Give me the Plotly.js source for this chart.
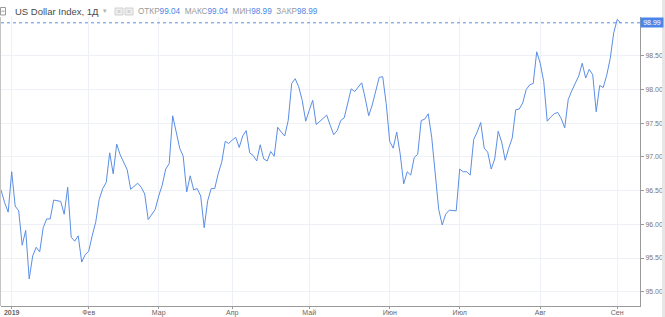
<!DOCTYPE html>
<html>
<head>
<meta charset="utf-8">
<script src="https://cdn.plot.ly/plotly-3.0.1.min.js"></script>
<style>
  html, body { margin: 0; padding: 0; background: #ffffff; }
  #chart { width: 665px; height: 317px; }
</style>
</head>
<body>
<div id="chart"></div>
<script>
// ---- data (US Dollar Index, daily closes) ----
const firstDate = '2018-12-26';
const holidays = ['2019-01-01'];
const valuesDec2018 = [96.62, 96.50, 96.32, 96.18];
const valuesJan = [96.78, 96.27, 96.20, 95.69, 95.91, 95.19, 95.53, 95.66, 95.59, 95.95, 96.08,
                   96.08, 96.36, 96.35, 96.34, 96.15, 96.55, 95.81, 95.75, 95.83, 95.44, 95.55];
const valuesFeb = [95.60, 95.83, 96.03, 96.37, 96.53, 96.62, 97.06, 96.75, 97.19, 97.03,
                   96.92, 96.81, 96.52, 96.56, 96.61, 96.55, 96.45, 96.07, 96.15, 96.22];
const valuesMar = [96.42, 96.58, 96.82, 96.90, 97.61, 97.39, 97.13, 97.01, 96.48, 96.72, 96.51,
                   96.53, 96.42, 95.95, 96.35, 96.53, 96.53, 96.75, 96.92, 97.23, 97.20];
const valuesApr = [97.25, 97.29, 97.14, 97.31, 97.39, 97.06, 97.02, 96.94, 97.18, 96.97, 96.94,
                   97.08, 97.01, 97.44, 97.37, 97.31, 97.54, 98.09, 98.16, 98.04, 97.84, 97.53];
const valuesMay = [97.69, 97.84, 97.48, 97.53, 97.57, 97.62, 97.47, 97.33, 97.39, 97.54, 97.58, 97.82,
                   98.01, 97.97, 98.04, 98.10, 97.87, 97.61, 97.77, 97.97, 98.18, 98.19, 97.79];
const valuesJun = [97.23, 97.13, 97.37, 97.04, 96.60, 96.78, 96.73, 96.99, 97.04, 97.54,
                   97.56, 97.64, 97.29, 96.77, 96.22, 95.99, 96.15, 96.21, 96.21, 96.20];
const valuesJul = [96.82, 96.78, 96.78, 96.73, 97.26, 97.37, 97.51, 97.13, 97.07, 96.82, 96.97, 97.38,
                   97.22, 96.95, 97.13, 97.28, 97.70, 97.71, 97.80, 98.00, 98.07, 98.09, 98.56];
const valuesAug = [98.39, 98.12, 97.53, 97.59, 97.64, 97.66, 97.57, 97.43, 97.85, 97.98, 98.10,
                   98.20, 98.39, 98.17, 98.30, 98.22, 97.67, 98.06, 98.03, 98.21, 98.46, 98.84];
const valuesSep = [99.04, 98.99];

const xTickDates = ['2019-01-02', '2019-02-01', '2019-03-01', '2019-04-01', '2019-05-01',
                    '2019-06-03', '2019-07-01', '2019-08-01', '2019-09-02'];
const xTickText = ['<b>2019</b>', 'Фев', 'Мар', 'Апр', 'Май', 'Июн', 'Июл', 'Авг', 'Сен'];
const yTickValues = [95.0, 95.5, 96.0, 96.5, 97.0, 97.5, 98.0, 98.5];

const chartTitle = 'US Dollar Index, 1Д';
const ohlcLabels = ['ОТКР', 'МАКС', 'МИН', 'ЗАКР'];
const ohlcValues = [99.04, 99.04, 98.99, 98.99];
const lastClose = 98.99;

// ---- build ----
const values = [].concat(valuesDec2018, valuesJan, valuesFeb, valuesMar, valuesApr,
                         valuesMay, valuesJun, valuesJul, valuesAug, valuesSep);

function tradingDays(start, n, skip) {
  const out = [];
  const d = new Date(start + 'T00:00:00Z');
  while (out.length < n) {
    const wd = d.getUTCDay();
    const s = d.toISOString().slice(0, 10);
    if (wd !== 0 && wd !== 6 && skip.indexOf(s) < 0) out.push(s);
    d.setUTCDate(d.getUTCDate() + 1);
  }
  return out;
}
const dates = tradingDays(firstDate, values.length, holidays);

// layout geometry helpers (pixels -> paper)
const W = 665, H = 317;
const M = { l: 1, r: 25, t: 17, b: 11 };
const PW = W - M.l - M.r, PH = H - M.t - M.b;
const px = v => (v - M.l) / PW;
const py = v => (H - M.b - v) / PH;

const blue = '#4a86e8';
const lineBlue = '#5b8ee6';
const grid = '#edf1f6';
const axisGray = '#9a9a9a';
const font = 'Liberation Sans, Arial, sans-serif';

const ohlcText = ohlcLabels.map((l, i) =>
  l + '<span style="color:' + blue + '">' + ohlcValues[i].toFixed(2) + '</span>').join('\u00a0\u00a0');

const trace = {
  type: 'scatter', mode: 'lines',
  x: dates, y: values,
  line: { color: lineBlue, width: 1 },
  hoverinfo: 'skip'
};

const layout = {
  width: W, height: H,
  margin: M,
  paper_bgcolor: '#ffffff', plot_bgcolor: '#ffffff',
  showlegend: false,
  font: { family: font, size: 7, color: '#777777' },
  xaxis: {
    type: 'date',
    rangebreaks: [{ bounds: ['sat', 'mon'] }, { values: holidays }],
    range: ['2018-12-26 22:38', '2019-09-10 12:15'],
    tickmode: 'array', tickvals: xTickDates, ticktext: xTickText,
    ticks: 'outside', ticklen: 2, tickcolor: axisGray,
    ticklabelstandoff: -2,
    tickfont: { family: font, size: 7, color: '#666666' },
    showgrid: true, gridcolor: grid, gridwidth: 1,
    showline: true, linecolor: axisGray, linewidth: 1,
    zeroline: false, fixedrange: true
  },
  yaxis: {
    side: 'right',
    range: [94.788, 99.076],
    tickmode: 'array', tickvals: yTickValues,
    ticktext: yTickValues.map(v => v.toFixed(2)),
    ticks: 'outside', ticklen: 3, tickcolor: axisGray,
    tickfont: { family: font, size: 7, color: '#777777' },
    showgrid: true, gridcolor: grid, gridwidth: 1,
    showline: true, linecolor: axisGray, linewidth: 1,
    zeroline: false, fixedrange: true
  },
  shapes: [
    // last price dotted line
    { type: 'line', xref: 'paper', yref: 'y', x0: 0, x1: 1, y0: lastClose, y1: lastClose,
      line: { color: lineBlue, width: 1, dash: 'dot' } },
    // left border
    { type: 'line', xref: 'paper', yref: 'paper', x0: px(0.5), x1: px(0.5), y0: 0, y1: 1,
      line: { color: '#c4c4c4', width: 1 } },
    // right scrollbar strip
    { type: 'rect', xref: 'paper', yref: 'paper', x0: px(662), x1: px(666), y0: py(318), y1: py(-1),
      fillcolor: '#e6e6e6', line: { width: 0 } },
    // collapse icon
    { type: 'rect', xref: 'paper', yref: 'paper', x0: px(0.5), x1: px(5.5), y0: py(15), y1: py(7.5),
      fillcolor: 'rgba(0,0,0,0)', line: { color: '#9a9a9a', width: 1 } },
    { type: 'line', xref: 'paper', yref: 'paper', x0: px(1.5), x1: px(4.5), y0: py(11.2), y1: py(11.2),
      line: { color: '#9a9a9a', width: 1 } },
    // two small toolbar boxes
    { type: 'rect', xref: 'paper', yref: 'paper', x0: px(115), x1: px(123), y0: py(15), y1: py(8),
      fillcolor: '#eeeeee', line: { color: '#d0d0d0', width: 1 } },
    { type: 'rect', xref: 'paper', yref: 'paper', x0: px(117.5), x1: px(120.5), y0: py(13), y1: py(10),
      fillcolor: '#d6d6d6', line: { width: 0 } },
    { type: 'rect', xref: 'paper', yref: 'paper', x0: px(125), x1: px(133), y0: py(15), y1: py(8),
      fillcolor: '#eeeeee', line: { color: '#d0d0d0', width: 1 } },
    { type: 'rect', xref: 'paper', yref: 'paper', x0: px(127.5), x1: px(130.5), y0: py(13), y1: py(10),
      fillcolor: '#d6d6d6', line: { width: 0 } }
  ],
  annotations: [
    { xref: 'paper', yref: 'paper', x: px(13), y: py(11.5), xanchor: 'left', yanchor: 'middle',
      text: chartTitle, showarrow: false,
      font: { family: font, size: 9.5, color: '#4a4a4a' } },
    { xref: 'paper', yref: 'paper', x: px(101), y: py(11), xanchor: 'left', yanchor: 'middle',
      text: '▾', showarrow: false, font: { family: 'DejaVu Sans', size: 7, color: '#b0b0b0' } },
    { xref: 'paper', yref: 'paper', x: px(136), y: py(11.5), xanchor: 'left', yanchor: 'middle',
      text: ohlcText, showarrow: false,
      font: { family: font, size: 8.2, color: '#9a9a9a' } },
    { xref: 'paper', yref: 'y', x: 1, y: lastClose, xanchor: 'left', yanchor: 'middle',
      text: lastClose.toFixed(2), showarrow: false, bgcolor: blue, width: 21, height: 8,
      borderpad: 0.5, align: 'center',
      font: { family: font, size: 7, color: '#ffffff' } }
  ]
};

Plotly.newPlot('chart', [trace], layout, { staticPlot: true, displayModeBar: false });
</script>
</body>
</html>
